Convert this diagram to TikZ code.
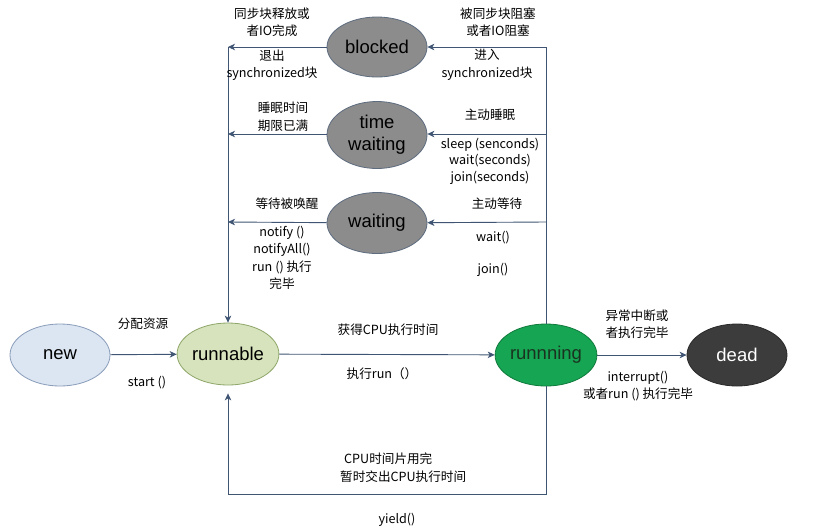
\documentclass[tikz,border=0pt]{standalone}
\usepackage{fontspec}
\setmainfont{Liberation Sans}
\newfontfamily\cjk{Noto Sans CJK SC}
\usetikzlibrary{shapes.geometric,arrows.meta}
\definecolor{linec}{HTML}{3F5573}
\definecolor{newfill}{HTML}{DCE6F2}
\definecolor{newdraw}{HTML}{8A9DBA}
\definecolor{rblfill}{HTML}{D6E3BC}
\definecolor{rbldraw}{HTML}{8FA66A}
\definecolor{runfill}{HTML}{16A552}
\definecolor{rundraw}{HTML}{0F7A3C}
\definecolor{runtext}{HTML}{1A3320}
\definecolor{deadfill}{HTML}{3C3C3C}
\definecolor{deaddraw}{HTML}{2A2A2A}
\definecolor{grayfill}{HTML}{8C8C8C}
\definecolor{graydraw}{HTML}{5E6C80}
\begin{document}
\begin{tikzpicture}[x=1pt,y=-1pt,
  st/.style={ellipse, line width=0.8pt, minimum width=100pt, minimum height=62pt, inner sep=0pt, align=center, font=\fontsize{18.5}{22}\selectfont},
  lbl/.style={font=\cjk\fontsize{12.6}{17.5}\selectfont, align=center, inner sep=0pt},
  conn/.style={draw=linec, line width=0.9pt},
  arr/.style={conn, -{Stealth[length=7pt,width=6.5pt,inset=2pt]}}]
\useasboundingbox[fill=white] (0,0) rectangle (814,531);
% states
\node[st, fill=newfill, draw=newdraw] (new) at (60,355) {new};
\node[st, fill=rblfill, draw=rbldraw] (runnable) at (228,354) {runnable};
\node[st, fill=runfill, draw=rundraw, text=runtext] (running) at (546,355) {runnning};
\node[st, fill=deadfill, draw=deaddraw, text=white] (dead) at (737,355) {dead};
\node[st, fill=grayfill, draw=graydraw, minimum height=60pt] (blocked) at (377,47) {blocked};
\node[st, fill=grayfill, draw=graydraw, minimum height=67pt] (tw) at (377,135) {time\\waiting};
\node[st, fill=grayfill, draw=graydraw, minimum height=61pt] (waiting) at (377,223) {waiting};
% coordinates
\coordinate (lt) at (228,47);
\coordinate (lm) at (228,134);
\coordinate (lw) at (228,222);
\coordinate (rt) at (546,47);
\coordinate (rm) at (546,134);
\coordinate (rw) at (546,222);
\coordinate (br) at (546,494);
\coordinate (bl) at (228,494);
% connectors
\draw[arr] (new) -- (runnable);
\draw[arr] (runnable) -- (running);
\draw[arr] (running) -- (dead);
\draw[arr] (blocked) -- (lt);
\draw[arr] (tw.west |- lm) -- (lm);
\draw[arr] (waiting) -- (lw);
\draw[arr] (lt) -- (runnable.north);
\draw[conn] (running.north) -- (rt);
\draw[arr] (rt) -- (blocked);
\draw[arr] (rm) -- (tw.east |- rm);
\draw[arr] (rw) -- (waiting);
\draw[arr, shorten >=8pt] (running.south) -- (br) -- (bl) -- (runnable.south);
% labels
\node[lbl] (l1) at (272,22) {同步块释放或\\者IO完成};
\node[lbl] (l2) at (272,65) {退出\\synchronized块};
\node[lbl] (l3) at (498,22) {被同步块阻塞\\或者IO阻塞};
\node[lbl] (l4) at (487,65) {进入\\synchronized块};
\node[lbl] (l5) at (283,117) {睡眠时间\\期限已满};
\node[lbl] (l6) at (490,115) {主动睡眠};
\node[lbl, font=\cjk\fontsize{12.6}{16.5}\selectfont] (l7) at (490,161) {sleep (senconds)\\wait(seconds)\\join(seconds)};
\node[lbl] (l8) at (287,204) {等待被唤醒};
\node[lbl] (l9) at (282,258) {notify ()\\notifyAll()\\run () 执行\\完毕};
\node[lbl] (l10) at (497,204) {主动等待};
\node[lbl] (l11) at (493,238) {wait()};
\node[lbl] (l12) at (493,270) {join()};
\node[lbl] (l13) at (143,324) {分配资源};
\node[lbl] (l14) at (147,383) {start ()};
\node[lbl] (l15) at (388,330) {获得CPU执行时间};
\node[lbl] (l16) at (382,374) {执行run（）};
\node[lbl] (l17) at (637,324) {异常中断或\\者执行完毕};
\node[lbl] (l18) at (638,386) {interrupt()\\或者run () 执行完毕};
\node[lbl, anchor=west] (l19) at (344,459) {CPU时间片用完};
\node[lbl, anchor=west] (l20) at (340,477) {暂时交出CPU执行时间};
\node[lbl] (l21) at (397,520) {yield()};
\end{tikzpicture}
\end{document}
